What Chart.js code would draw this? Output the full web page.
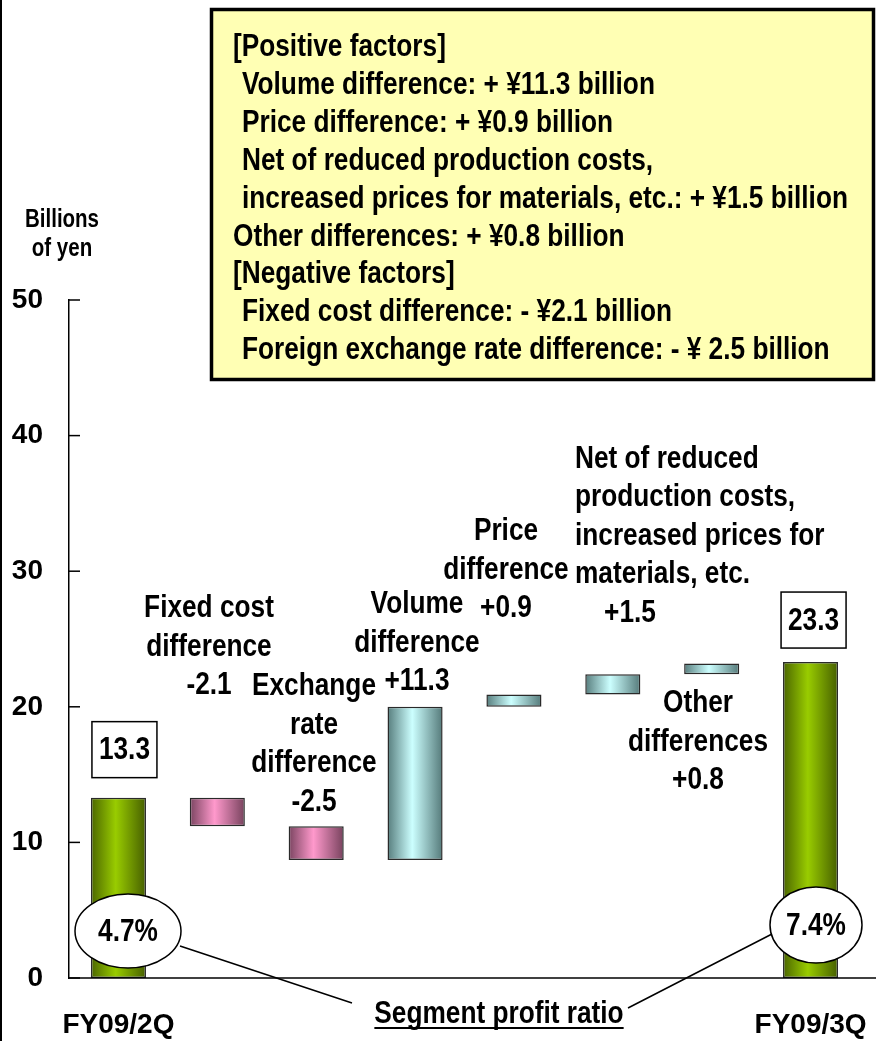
<!DOCTYPE html>
<html>
<head>
<meta charset="utf-8">
<script src="https://cdn.jsdelivr.net/npm/chart.js@4"></script>
<style>
  html, body { margin: 0; padding: 0; background: #fff; }
  canvas { display: block; }
</style>
</head>
<body>
<canvas id="c" width="876" height="1041"></canvas>
<script>
const FONT = "'Liberation Sans', Arial, sans-serif";
const NARROW = 0.82; // squeeze Arial-like text into a narrow face

// data
const categories = ['FY09/2Q', 'Fixed cost difference', 'Exchange rate difference', 'Volume difference',
  'Price difference', 'Net of reduced production costs, increased prices for materials, etc.',
  'Other differences', 'FY09/3Q'];
const barLows = [0, 11.2, 8.7, 8.7, 20.0, 20.9, 22.4, 0];
const barHighs = [13.3, 13.3, 11.2, 20.0, 20.9, 22.4, 23.2, 23.3];
const changes = [null, -2.1, -2.5, 11.3, 0.9, 1.5, 0.8, null];
const totalLabels = ['13.3', '23.3'];
const profitRatios = ['4.7%', '7.4%'];
const yTicks = [0, 10, 20, 30, 40, 50];
const factorLines = [
  '[Positive factors]',
  ' Volume difference: + \u00a511.3 billion',
  ' Price difference: + \u00a50.9 billion',
  ' Net of reduced production costs,',
  ' increased prices for materials, etc.: + \u00a51.5 billion',
  'Other differences: + \u00a50.8 billion',
  '[Negative factors]',
  ' Fixed cost difference: - \u00a52.1 billion',
  ' Foreign exchange rate difference: - \u00a5 2.5 billion'
];

const fmtChange = v => (v > 0 ? '+' : '') + v.toFixed(1);

const palette = {
  total: ['#4b6600', '#99cc00', '#465f00'],
  neg: ['#7a4460', '#ff99cc', '#77425d'],
  pos: ['#577d7d', '#ccffff', '#557a7a']
};
const kindOf = i => changes[i] === null ? 'total' : (changes[i] < 0 ? 'neg' : 'pos');
const BAR_PCT = 0.557;

function barFill(ctx) {
  const chart = ctx.chart;
  const xs = chart.scales.x;
  const c = palette[kindOf(ctx.dataIndex)];
  if (!xs || !chart.chartArea) return c[1];
  const cx = xs.getPixelForValue(ctx.dataIndex);
  const half = xs.width / categories.length * BAR_PCT / 2;
  const g = chart.ctx.createLinearGradient(cx - half, 0, cx + half, 0);
  g.addColorStop(0, c[0]);
  g.addColorStop(0.45, c[1]);
  g.addColorStop(1, c[2]);
  return g;
}

// narrow text helper
function nText(ctx, s, x, y, align) {
  ctx.save();
  ctx.translate(x, y);
  ctx.scale(NARROW, 1);
  ctx.textAlign = align || 'center';
  ctx.fillText(s, 0, 0);
  ctx.restore();
}
function lines(ctx, arr, x, y, lh, align) {
  arr.forEach((s, i) => nText(ctx, s, x, y + i * lh, align));
}

const decor = {
  id: 'decor',
  beforeDraw(chart) {
    const ctx = chart.ctx;
    ctx.save();
    ctx.fillStyle = '#000';
    ctx.fillRect(0, 0, 2, chart.height);
    // factors box
    ctx.fillStyle = '#ffffb4';
    ctx.fillRect(210, 8, 665, 373);
    ctx.lineWidth = 3.5;
    ctx.strokeStyle = '#000';
    ctx.strokeRect(211.5, 9.5, 662, 370);
    ctx.fillStyle = '#000';
    ctx.font = 'bold 32px ' + FONT;
    ctx.textBaseline = 'alphabetic';
    factorLines.forEach((s, i) => {
      const indent = s.startsWith(' ') ? 9 : 0;
      nText(ctx, s.trim(), 233 + indent, 56 + i * 37.9, 'left');
    });
    // y title
    ctx.font = 'bold 25px ' + FONT;
    lines(ctx, ['Billions', 'of yen'], 62, 227, 29);
    ctx.restore();
  },
  afterDatasetsDraw(chart) {
    const ctx = chart.ctx;
    const xs = chart.scales.x, ys = chart.scales.y;
    const a = chart.chartArea;
    ctx.save();
    ctx.strokeStyle = '#000';
    ctx.fillStyle = '#000';
    // x axis line to the page edge
    const y0 = ys.getPixelForValue(0);
    ctx.lineWidth = 1.5;
    ctx.beginPath();
    ctx.moveTo(a.left, y0);
    ctx.lineTo(chart.width, y0);
    ctx.stroke();
    // inward y ticks
    yTicks.forEach(t => {
      const y = ys.getPixelForValue(t);
      ctx.beginPath();
      ctx.moveTo(a.left, y);
      ctx.lineTo(a.left + 11, y);
      ctx.stroke();
    });

    // change annotations
    ctx.font = 'bold 32px ' + FONT;
    ctx.textBaseline = 'alphabetic';
    const lh = 38.5;
    lines(ctx, ['Fixed cost', 'difference', fmtChange(changes[1])], 209, 617, lh);
    lines(ctx, ['Exchange', 'rate', 'difference', fmtChange(changes[2])], 314, 695, lh);
    lines(ctx, ['Volume', 'difference', fmtChange(changes[3])], 417, 613, lh);
    lines(ctx, ['Price', 'difference', fmtChange(changes[4])], 506, 540, lh);
    lines(ctx, ['Net of reduced', 'production costs,', 'increased prices for', 'materials, etc.'], 575, 468, 38.3, 'left');
    lines(ctx, [fmtChange(changes[5])], 630, 622, lh);
    lines(ctx, ['Other', 'differences', fmtChange(changes[6])], 698, 712, lh);

    // total value boxes
    [0, 7].forEach((idx, k) => {
      const cx = xs.getPixelForValue(idx) + (k === 0 ? 6 : 3);
      const top = ys.getPixelForValue(barHighs[idx]);
      const bw = 65, bh = 56;
      const by = top - (k === 0 ? 20 : 14) - bh;
      ctx.fillStyle = '#fff';
      ctx.fillRect(cx - bw / 2, by, bw, bh);
      ctx.lineWidth = 1.5;
      ctx.strokeRect(cx - bw / 2, by, bw, bh);
      ctx.fillStyle = '#000';
      ctx.textBaseline = 'middle';
      ctx.font = 'bold 32px ' + FONT;
      nText(ctx, totalLabels[k], cx, by + bh / 2 + 1);
    });

    // leader lines
    ctx.lineWidth = 1.5;
    ctx.beginPath();
    ctx.moveTo(180, 946); ctx.lineTo(352, 1003);
    ctx.moveTo(628, 1008); ctx.lineTo(772, 934);
    ctx.stroke();

    // profit ratio ellipses
    [[128, 931, 53, 37], [816, 925, 46, 38]].forEach((e, k) => {
      ctx.beginPath();
      ctx.ellipse(e[0], e[1], e[2], e[3], 0, 0, Math.PI * 2);
      ctx.fillStyle = '#fff';
      ctx.fill();
      ctx.stroke();
      ctx.fillStyle = '#000';
      ctx.textBaseline = 'middle';
      ctx.font = 'bold 32px ' + FONT;
      nText(ctx, profitRatios[k], e[0], e[1] + 1);
    });

    // caption
    ctx.font = 'bold 32px ' + FONT;
    ctx.textBaseline = 'alphabetic';
    nText(ctx, 'Segment profit ratio', 499, 1023);
    const w = ctx.measureText('Segment profit ratio').width * NARROW;
    ctx.fillRect(499 - w / 2, 1027, w, 2);
    ctx.restore();
  }
};

new Chart(document.getElementById('c'), {
  type: 'bar',
  data: {
    labels: categories,
    datasets: [{
      data: barLows.map((lo, i) => [lo, barHighs[i]]),
      backgroundColor: barFill,
      borderColor: '#2a2a2a',
      borderWidth: 1.5,
      borderSkipped: false,
      barPercentage: BAR_PCT,
      categoryPercentage: 1
    }]
  },
  options: {
    responsive: false,
    animation: false,
    devicePixelRatio: 1,
    layout: { autoPadding: false, padding: { top: 300, right: 16, left: 0, bottom: 0 } },
    plugins: { legend: { display: false }, tooltip: { enabled: false } },
    scales: {
      x: {
        grid: { display: false, drawTicks: false },
        border: { display: false },
        ticks: {
          autoSkip: false, maxRotation: 0, padding: 30, color: '#000',
          font: { family: FONT, size: 28, weight: 'bold' },
          callback: (v, i) => (i === 0 || i === categories.length - 1) ? categories[i] : ''
        },
        afterFit: s => { s.height = 63; s.paddingLeft = 0; s.paddingRight = 0; }
      },
      y: {
        min: 0, max: 50,
        grid: { display: false, drawTicks: false },
        border: { display: true, color: '#000', width: 1.5 },
        ticks: {
          stepSize: 10, padding: 26, color: '#000',
          font: { family: FONT, size: 28, weight: 'bold' }
        },
        afterFit: s => { s.width = 69; s.paddingTop = 0; s.paddingBottom = 0; }
      }
    }
  },
  plugins: [decor]
});
</script>
</body>
</html>
